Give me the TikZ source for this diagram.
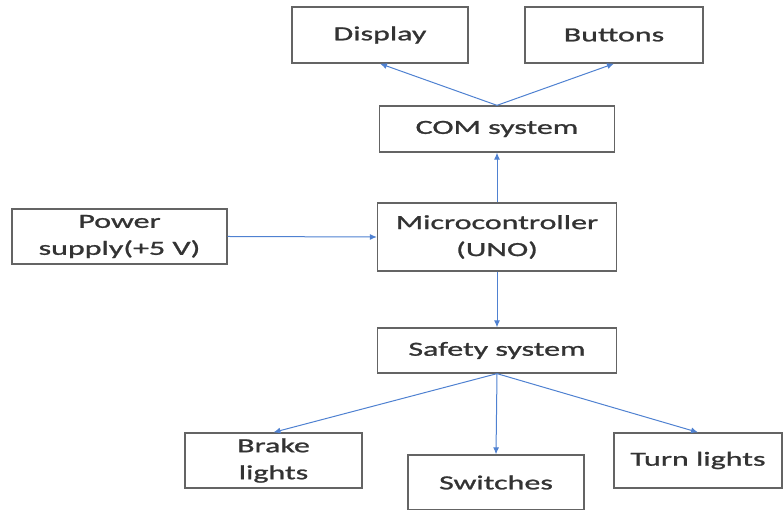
\documentclass[tikz,border=0pt]{standalone}
\usepackage{fontspec}
\setmainfont{Carlito}[FakeStretch=1.6,FakeBold=1.2]
\usetikzlibrary{arrows.meta}
\definecolor{linkblue}{RGB}{79,129,209}
\definecolor{boxgray}{RGB}{100,100,100}

\begin{document}
\begin{tikzpicture}[x=1pt,y=1pt,
  blk/.style={draw=boxgray,line width=1.3pt,text=black!80,align=center,inner sep=0pt},
  arr/.style={draw=linkblue,line width=1pt,-{Latex[length=7pt,width=6pt]}}]
\fontsize{20}{27}\selectfont
\useasboundingbox (0,0) rectangle (784,510);

% top row
\node[blk,minimum width=176,minimum height=56] (display) at (380,475) {Display};
\node[blk,minimum width=178,minimum height=56] (buttons) at (614,475) {Buttons};
\node[blk,minimum width=235,minimum height=46] (com) at (497,381) {COM system};

% middle row
\node[blk,minimum width=215,minimum height=55] (power) at (119.5,273.5) {Power\\supply(+5 V)};
\node[blk,minimum width=239,minimum height=68] (micro) at (497,273) {Microcontroller\\(UNO)};
\node[blk,minimum width=239,minimum height=45] (safety) at (497,159.5) {Safety system};

% bottom row
\node[blk,minimum width=177,minimum height=55] (brake) at (273.5,49.5) {Brake\\lights};
\node[blk,minimum width=176,minimum height=55] (switches) at (496,27.5) {Switches};
\node[blk,minimum width=168,minimum height=55] (turn) at (698,49.5) {Turn lights};

\draw[arr] (com.north) -- (display.south);
\draw[arr] (com.north) -- (buttons.south);
\draw[arr] (micro.north) -- (com.south);
\draw[arr] (power.east) -- (micro.west);
\draw[arr] (micro.south) -- (safety.north);
\draw[arr] (safety.south) -- (brake.north);
\draw[arr] (safety.south) -- (switches.north);
\draw[arr] (safety.south) -- (turn.north);
\end{tikzpicture}
\end{document}
